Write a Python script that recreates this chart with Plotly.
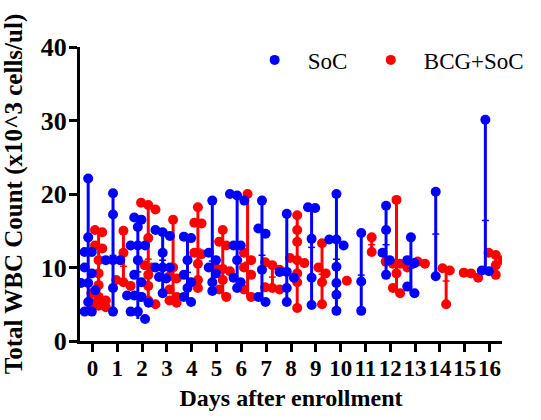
import plotly.graph_objects as go

# WBC counts (x10^3 cells/ul) per day after enrollment
days = list(range(17))
soc = [
    [22.1, 14.1, 12.1, 12.1, 10, 9.2, 7.9, 7.9, 6.9, 5.3, 4, 4],
    [20.1, 17.2, 11, 11, 11, 7.2, 4],
    [16.8, 16.5, 15.5, 13, 13, 13, 11, 9, 8, 6.2, 6.2, 6, 5.2, 4, 4, 3],
    [15.1, 14.8, 14.3, 12, 10, 10, 10, 8.7, 8.5, 6.5],
    [14.2, 14, 11, 9, 8, 7.2, 6, 5.3],
    [19.1, 12, 11, 10, 9.2, 8, 6.8],
    [20, 19.8, 19.1, 13, 13, 11, 8.6, 8, 7.2],
    [19.1, 15.3, 14.6, 9.7, 6, 5.3],
    [17.3, 9.4, 9.4, 8.6, 7.2, 5.3],
    [18.2, 18.1, 13.9, 8.6, 4.9],
    [20, 13.8, 13.8, 13, 10.1, 7.9, 6.3, 4.1],
    [14.7, 8.1, 4.1],
    [18.4, 15.1, 12, 11, 9],
    [14.1, 11, 10.6, 7.4, 6.5],
    [20.3, 8.8],
    [],
    [30.1, 9.6, 9.5],
]
bcg = [
    [15.1, 14.8, 13, 12.6, 11, 9.2, 7.6, 6.5, 6, 5.5, 5.2, 4.8, 4.6],
    [15, 12, 8.3, 8, 7.5],
    [18.8, 18.5, 17.9, 14, 10.3, 10, 9, 7.5, 6, 5.5, 5],
    [16.5, 10, 8.8, 8.5, 7, 6, 5.5, 5.2],
    [18.2, 16.1, 16, 12, 11.8, 10.5, 8.3, 7.2],
    [15.1, 13.5, 13, 10, 9.8, 9.5, 8.3, 7, 6],
    [20, 12, 11, 10, 9, 7, 6],
    [10.7, 10.3, 9.7, 7.3, 7.2, 7],
    [17.1, 15.1, 13.5, 11.3, 11, 10.6, 9.2, 8, 4.5],
    [13.3, 10, 9.2, 8, 5],
    [8.2],
    [14.1, 12.1],
    [19.2, 10.8, 10.5, 10.5, 10, 9.2, 7.2, 6.5],
    [10.8, 10.5],
    [9.9, 9.6, 5],
    [9.3, 9.2, 8.6],
    [12, 11.7, 11, 10.3, 9],
]

FONT = "Liberation Serif"


def swarm(vals, center, step=0.29, tol=1.0):
    # lay points that sit at about the same height side by side, like Prism does
    rows = []
    for v in sorted(vals, reverse=True):
        if rows and rows[-1][0] - v <= tol:
            rows[-1].append(v)
        else:
            rows.append([v])
    xs, ys = [], []
    for row in rows:
        n = len(row)
        for i, v in enumerate(row):
            xs.append(center + (i - (n - 1) / 2) * step)
            ys.append(v)
    return xs, ys


def group_traces(data, name, color, shift, legend):
    px, py, lx, ly, mx, my = [], [], [], [], [], []
    for d, vals in zip(days, data):
        if not vals:
            continue
        c = d + shift
        xs, ys = swarm(vals, c)
        px += xs
        py += ys
        lx += [c, c, None]
        ly += [min(vals), max(vals), None]
        m = sum(vals) / len(vals)
        mx += [c - 0.14, c + 0.14, None]
        my += [m, m, None]
    return [
        go.Scatter(x=lx, y=ly, mode="lines", line=dict(color=color, width=3),
                   showlegend=False, hoverinfo="skip"),
        go.Scatter(x=mx, y=my, mode="lines", line=dict(color=color, width=1.5),
                   showlegend=False, hoverinfo="skip"),
        go.Scatter(x=px, y=py, mode="markers", name=name, legend=legend,
                   marker=dict(color=color, size=10, line=dict(width=0))),
    ]


fig = go.Figure()
for t in group_traces(bcg, "BCG+SoC", "#ff0000", 0.25, "legend2"):
    fig.add_trace(t)
for t in group_traces(soc, "SoC", "#0000ff", -0.17, "legend"):
    fig.add_trace(t)

leg = dict(orientation="h", xanchor="left", yanchor="middle", y=0.956,
           font=dict(family=FONT, size=23, color="black"),
           bgcolor="rgba(0,0,0,0)", itemwidth=56)
fig.update_layout(
    width=541, height=420,
    margin=dict(l=80, r=25, t=47, b=79),
    paper_bgcolor="white", plot_bgcolor="white",
    font=dict(family=FONT, color="black"),
    showlegend=True,
    legend=dict(leg, x=(247 - 80) / 436),
    legend2=dict(leg, x=(367 - 80) / 436),
)
fig.update_xaxes(
    range=[-0.5, 16.5], tickmode="array", tickvals=days, ticktext=[str(d) for d in days],
    tickangle=0,
    showline=True, linewidth=3, linecolor="black", showgrid=False, zeroline=False,
    ticks="outside", ticklen=8, tickwidth=3, tickcolor="black", automargin=False,
    tickfont=dict(family=FONT, size=23, weight="bold"), ticklabelstandoff=-4,
    title=dict(text="Days after enrollment", standoff=10,
               font=dict(family=FONT, size=24, weight="bold")),
)
fig.update_yaxes(
    range=[0, 40], tickvals=[0, 10, 20, 30, 40],
    showline=True, linewidth=3, linecolor="black", showgrid=False, zeroline=False,
    ticks="outside", ticklen=8, tickwidth=3, tickcolor="black", automargin=False,
    tickfont=dict(family=FONT, size=26, weight="bold"), ticklabelstandoff=-3,
    title=dict(text="Total WBC Count (x10^3 cells/ul)",
               font=dict(family=FONT, size=25, weight="bold")),
)

# the page's default body margin would shift the whole chart by 8 px
fig.write_html("out.html", config={"displayModeBar": False},
               post_script="document.body.style.margin = '0';")
